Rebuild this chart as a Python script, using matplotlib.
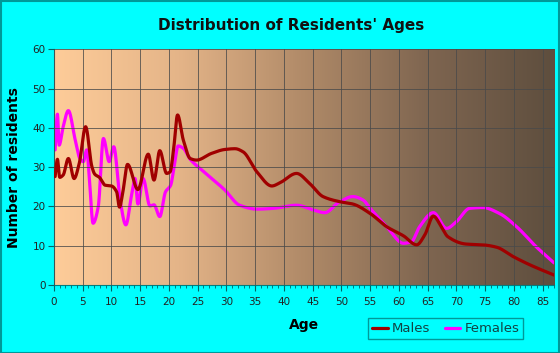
import numpy as np
import matplotlib
matplotlib.use("Agg")
import matplotlib.pyplot as plt
from matplotlib.colors import LinearSegmentedColormap
from matplotlib.patches import Rectangle
from matplotlib.ticker import MultipleLocator

# key points (age, residents)
male_age = [0.2, 0.6, 1.0, 1.6, 2.5, 3.5, 4.4, 5.5, 6.6, 7.1, 7.9, 8.9, 10.0, 10.9,
            11.4, 11.9, 12.8, 14.6, 16.4, 17.4, 18.4, 19.6, 20.2, 20.8, 21.5, 22.5,
            23.7, 24.8, 27.4, 29.7, 31.5, 32.9, 35.3, 37.9, 39.3, 42.2, 44.5, 46.8,
            49.7, 52.0, 55.0, 57.9, 60.8, 63.1, 64.5, 66.0, 67.4, 68.5, 71.7, 74.6,
            77.0, 79.9, 82.8, 87.0]
male_val = [27.6, 32.0, 27.4, 28.0, 32.2, 27.1, 31.0, 40.3, 30.1, 28.2, 27.4, 25.4, 25.2, 23.7,
            19.8, 22.9, 30.7, 24.3, 33.3, 26.7, 34.2, 28.4, 28.8, 34.4, 43.3, 36.9,
            32.2, 31.8, 33.5, 34.5, 34.7, 33.9, 28.8, 25.2, 26.0, 28.4, 25.8, 22.5,
            21.2, 20.6, 18.2, 14.8, 12.5, 10.2, 12.7, 17.5, 14.8, 12.3, 10.4, 10.2,
            9.6, 7.2, 5.1, 2.5]

female_age = [0.2, 0.6, 0.9, 1.6, 2.5, 3.7, 4.5, 5.1, 5.7, 6.1, 6.8, 7.7, 8.6, 9.6,
              10.4, 11.5, 12.5, 13.5, 14.1, 14.6, 15.5, 16.7, 17.4, 18.4, 19.4, 20.3,
              20.9, 21.6, 22.5, 23.7, 25.7, 29.7, 32.3, 35.3, 38.2, 42.2, 45.1, 47.1,
              49.7, 52.0, 53.8, 55.0, 57.9, 60.8, 62.2, 63.6, 66.0, 68.3, 70.0, 72.3,
              74.6, 77.5, 80.5, 83.9, 87.0]
female_val = [34.4, 43.5, 35.6, 40.3, 44.4, 36.9, 32.2, 31.4, 34.4, 28.4, 15.7, 19.9, 37.3, 31.4,
              35.2, 21.6, 15.3, 22.9, 27.1, 20.6, 27.1, 20.1, 20.4, 17.4, 23.7, 25.4,
              30.1, 35.4, 34.8, 32.0, 29.3, 24.2, 20.3, 19.3, 19.5, 20.3, 19.1, 18.4,
              21.2, 22.5, 21.6, 19.5, 14.8, 10.6, 11.0, 14.8, 18.4, 14.4, 16.1, 19.5,
              19.7, 18.2, 14.8, 9.7, 5.6]


def pchip(x, y, xs):
    # monotone cubic so the curve stays smooth without overshooting
    x = np.asarray(x, float)
    y = np.asarray(y, float)
    h = np.diff(x)
    d = np.diff(y) / h
    m = np.zeros_like(y)
    for k in range(1, len(x) - 1):
        if d[k - 1] * d[k] > 0:
            w1 = 2 * h[k] + h[k - 1]
            w2 = h[k] + 2 * h[k - 1]
            m[k] = (w1 + w2) / (w1 / d[k - 1] + w2 / d[k])
    m[0] = d[0]
    m[-1] = d[-1]
    idx = np.clip(np.searchsorted(x, xs) - 1, 0, len(x) - 2)
    t = (xs - x[idx]) / h[idx]
    h00 = 2 * t**3 - 3 * t**2 + 1
    h10 = t**3 - 2 * t**2 + t
    h01 = -2 * t**3 + 3 * t**2
    h11 = t**3 - t**2
    return h00 * y[idx] + h10 * h[idx] * m[idx] + h01 * y[idx + 1] + h11 * h[idx] * m[idx + 1]


fig = plt.figure(figsize=(5.6, 3.53), dpi=100, facecolor="#00FFFF")
fig.patches.append(Rectangle((0.001, 0.001), 0.997, 0.996, transform=fig.transFigure,
                             fill=False, edgecolor="#009999", linewidth=1.5))
ax = fig.add_axes([0.0964, 0.193, 0.893, 0.667])

cmap = LinearSegmentedColormap.from_list("bg", ["#FECC99", "#E4B488", "#B08A68", "#7E6550", "#5E4E3E"])
grad = np.linspace(0, 1, 256).reshape(1, -1)
ax.imshow(grad, cmap=cmap, aspect="auto", extent=[0, 87, 0, 60], zorder=0)

ax.set_xlim(0, 87)
ax.set_ylim(0, 60)
ax.xaxis.set_major_locator(MultipleLocator(5))
ax.xaxis.set_minor_locator(MultipleLocator(1))
ax.yaxis.set_major_locator(MultipleLocator(10))
ax.grid(True, which="major", color="#4a4a4a", linewidth=0.7, alpha=0.8, zorder=1)
ax.set_axisbelow(False)

xs_m = np.linspace(min(male_age), max(male_age), 1500)
xs_f = np.linspace(min(female_age), max(female_age), 1500)
ax.plot(xs_m, pchip(male_age, male_val, xs_m), color="#A00000", linewidth=2.3,
        label="Males", zorder=3, solid_capstyle="round")
ax.plot(xs_f, pchip(female_age, female_val, xs_f), color="#FF00FF", linewidth=2.3,
        label="Females", zorder=2, solid_capstyle="round")

for s in ["top", "right"]:
    ax.spines[s].set_visible(False)
ax.spines["left"].set_color("#008080")
ax.spines["bottom"].set_color("#008080")
ax.tick_params(axis="both", which="both", direction="out", color="#006666",
               labelsize=7.5, labelcolor="#222222")
ax.tick_params(axis="x", which="major", length=4, pad=5)
ax.tick_params(axis="x", which="minor", length=2.5)
ax.tick_params(axis="y", length=4, pad=2)

fig.text(0.52, 0.928, "Distribution of Residents' Ages", ha="center", va="center",
         fontsize=11, fontweight="bold", family="DejaVu Sans", color="#111111")
ax.set_xlabel("Age", fontsize=10, fontweight="bold", labelpad=8)
ax.set_ylabel("Number of residents", fontsize=10, fontweight="bold", labelpad=8)

leg = ax.legend(loc="upper left", bbox_to_anchor=(0.657, 0.098), bbox_transform=fig.transFigure,
                ncol=2, frameon=True, fontsize=9.5, handlelength=1.2, handletextpad=0.3,
                columnspacing=1.1, borderpad=0.3, borderaxespad=0, fancybox=False)
leg.get_frame().set_facecolor("#00FFFF")
leg.get_frame().set_edgecolor("#008080")
for t in leg.get_texts():
    t.set_color("#114444")

fig.savefig("out.png", dpi=100, facecolor=fig.get_facecolor())
